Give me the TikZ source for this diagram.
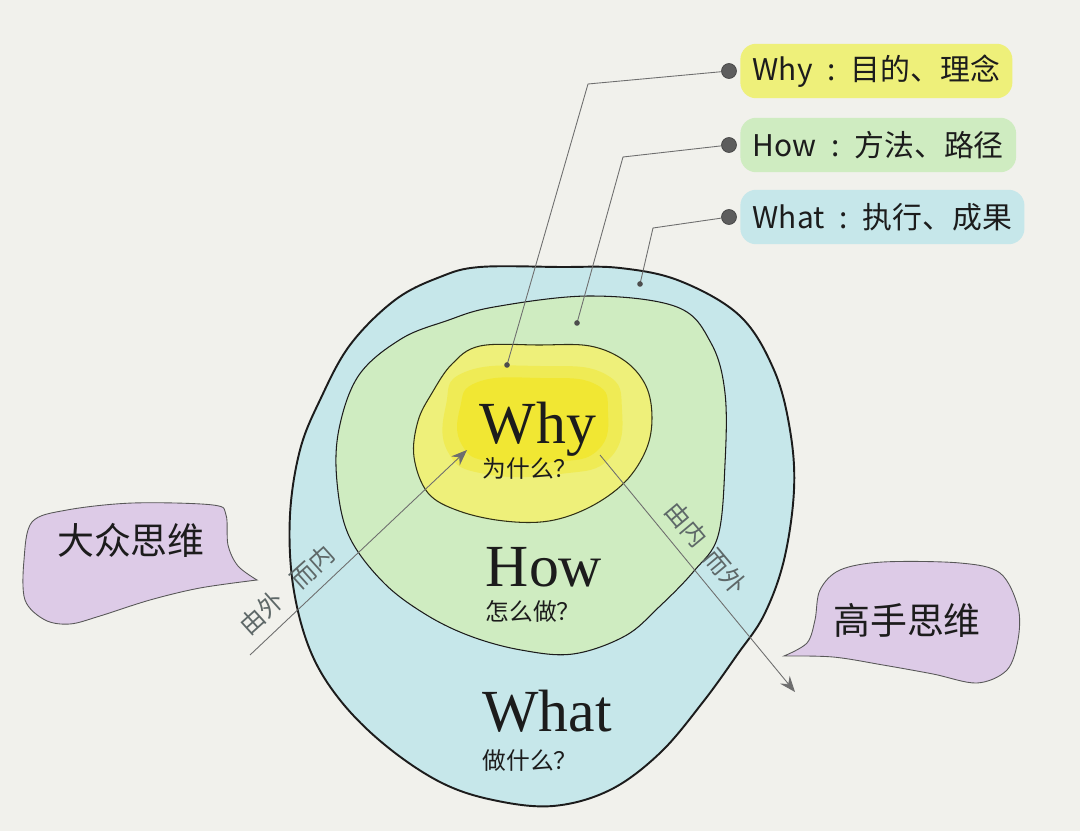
\documentclass[tikz,border=0pt]{standalone}
\usepackage{fontspec}
\setmainfont{Liberation Serif}
\newfontfamily\cjk{Noto Sans CJK SC}
\usetikzlibrary{arrows.meta,calc,positioning}
\definecolor{paper}{HTML}{F1F1EC}
\definecolor{ink}{HTML}{1C1C1C}
\definecolor{muted}{HTML}{5E6868}
\definecolor{pencil}{HTML}{6E6E6E}
\definecolor{whatblue}{HTML}{C6E7EA}
\definecolor{howgreen}{HTML}{CFECC1}
\definecolor{whyyellow}{HTML}{EEF07A}
\definecolor{whycore}{HTML}{F2E628}
\definecolor{lilac}{HTML}{DDCBE7}

\begin{document}
\begin{tikzpicture}[x=0.02cm,y=-0.02cm,font=\cjk,
  ring/.style={draw=ink,line width=0.6pt},
  word/.style={font=\rmfamily\fontsize{34}{36}\selectfont,text=ink,anchor=base,inner sep=0pt},
  ask/.style={font=\cjk\fontsize{13.5}{15}\selectfont,text=ink,inner sep=0pt},
  tag/.style={anchor=west,rounded corners=9pt,minimum height=31pt,inner xsep=7pt,font=\cjk\fontsize{17}{19}\selectfont,text=ink},
  pin/.style={circle,fill=pencil!85!black,draw=pencil!60!black,minimum size=8.5pt,inner sep=0pt},
  lead/.style={draw=pencil,line width=0.5pt},
  flow/.style={draw=pencil,line width=0.5pt,-{Stealth[length=9pt,width=7pt,inset=3pt]}},
  flowtxt/.style={font=\cjk\fontsize{14}{16}\selectfont,text=muted,inner sep=0pt},
  bubble/.style={fill=lilac,draw=pencil!80!black,line width=0.5pt},
  think/.style={font=\cjk\fontsize{21}{23}\selectfont,text=ink,inner sep=0pt}]
  \fill[paper] (0,0) rectangle (1080,831);
  \useasboundingbox (0,0) rectangle (1080,831);

  % the three rings
  \filldraw[ring,fill=whatblue,line width=1.1pt] plot[smooth cycle,tension=0.6] coordinates {
    (480,267) (560,267) (620,268) (680,281) (740,316) (774,370) (790,430) (794,490)
    (784,560) (764,615) (737,655) (703,702) (660,753) (610,790) (553,806) (493,800)
    (440,782) (385,745) (340,700) (310,650) (293,585) (290,515) (300,450) (320,400)
    (350,345) (395,300) (440,277)};
  \filldraw[ring,fill=howgreen] plot[smooth cycle,tension=0.6] coordinates {
    (494,307) (590,296) (677,307) (711,343) (725,393) (725,464) (718,536) (694,571)
    (659,607) (625,636) (573,654) (521,650) (470,636) (425,614) (383,582) (349,536)
    (337,482) (339,429) (359,375) (401,339) (446,321)};
  \filldraw[ring,fill=whyyellow,draw=ink!80!olive] plot[smooth cycle,tension=0.6] coordinates {
    (480,346) (539,345) (590,346) (625,361) (646,386) (652,418) (646,450) (625,482)
    (590,507) (549,521) (504,521) (459,511) (428,493) (414,457) (418,421) (432,393)
    (452,364)};
  \fill[whycore,opacity=.45] plot[smooth cycle,tension=0.8] coordinates {
    (465,372) (540,366) (605,374) (622,410) (610,458) (560,474) (485,474) (448,452) (446,405)};
  \fill[whycore,opacity=.75] plot[smooth cycle,tension=0.8] coordinates {
    (478,382) (540,378) (595,384) (608,412) (598,450) (555,462) (492,462) (462,445) (460,408)};

  \node[word] (why) at (538,444) {Why};
  \node[ask] (whyask) at (530,469) {为什么？};
  \node[word] (how) at (544,587) {How};
  \node[ask] (howask) at (533,611) {怎么做？};
  \node[word] (what) at (547,731) {What};
  \node[ask] (whatask) at (530,760) {做什么？};

  % legend tags
  \foreach \n/\y/\col/\txt in {why/71/whyyellow/{Why\enspace:\enspace 目的、理念},
      how/145/howgreen/{How\enspace:\enspace 方法、路径},
      what/217/whatblue/{What\enspace:\enspace 执行、成果}} {
    \node[tag,fill=\col] (tag\n) at (740,\y) {\txt};
    \node[pin] (pin\n) at (729,\y) {};
  }
  \coordinate (endwhy) at (507,365);
  \coordinate (endhow) at (577,323);
  \coordinate (endwhat) at (640,284);
  \draw[lead] (pinwhy) -- (588,84) -- (endwhy);
  \draw[lead] (pinhow) -- (623,157) -- (endhow);
  \draw[lead] (pinwhat) -- (653,228) -- (endwhat);
  \foreach \n in {why,how,what}
    \fill[pencil!70!black] (end\n) circle (1.6pt);

  % reading directions
  \coordinate (infrom) at (250,655);
  \coordinate (into) at (467,450);
  \draw[flow] (infrom) -- (into);
  \node[flowtxt,rotate=42] (inlbl) at (287,590) {由外\hspace{0.8em}而内};
  \coordinate (outfrom) at (600,455);
  \coordinate (outto) at (795,692);
  \draw[flow] (outfrom) -- (outto);
  \node[flowtxt,rotate=-50] (outlbl) at (706,548) {由内\hspace{0.5em}而外};

  % speech bubbles
  \filldraw[bubble] plot[smooth,tension=0.55] coordinates {
    (257,580) (238,566) (228,545) (226,515) (213,505) (133,503) (67,510) (32,522)
    (24,560) (25,600) (45,620) (70,624) (100,616) (150,600) (200,588) (257,580)} -- cycle;
  \node[think] (mass) at (131,540) {大众思维};
  \filldraw[bubble] plot[smooth,tension=0.55] coordinates {
    (784,656) (807,643) (815,620) (820,590) (840,570) (883,562) (960,563) (1000,573)
    (1018,607) (1018,640) (1007,670) (977,683) (933,674) (883,665) (833,657) (784,656)} -- cycle;
  \node[think] (pro) at (907,620) {高手思维};
\end{tikzpicture}
\end{document}
